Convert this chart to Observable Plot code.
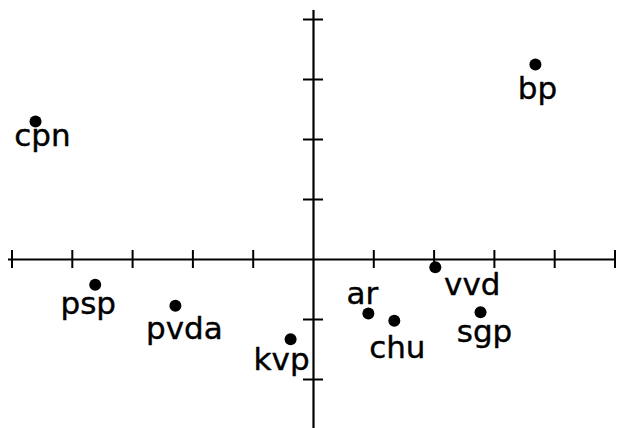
<!DOCTYPE html>
<html>
<head>
<meta charset="utf-8">
<script src="https://cdn.jsdelivr.net/npm/d3@7"></script>
<script src="https://cdn.jsdelivr.net/npm/@observablehq/plot@0.6"></script>
<style>
  html, body { margin: 0; padding: 0; background: #fff; }
  #chart svg { display: block; }
</style>
</head>
<body>
<div id="chart"></div>
<script>
// Party positions on the first two dimensions
const parties = ["cpn", "bp", "psp", "pvda", "kvp", "ar", "chu", "vvd", "sgp"];
const dim1 = [-4.61, 3.68, -3.62, -2.29, -0.38, 0.91, 1.34, 2.02, 2.77];
const dim2 = [2.30, 3.25, -0.42, -0.77, -1.33, -0.90, -1.02, -0.13, -0.88];

// Tick positions on the two axes (unlabelled cross ticks)
const xTicks = [-5, -4, -3, -2, -1, 1, 2, 3, 4, 5];
const yTicks = [-2, -1, 1, 2, 3, 4];

const points = parties.map((name, i) => ({name, x: dim1[i], y: dim2[i]}));

// Label placement around each dot, in pixels: [dx, baseline offset]
const labelPlacement = {
  cpn: [7, 24], bp: [2, 34], psp: [-7, 29], pvda: [9, 33], kvp: [-9, 31],
  ar: [-6, -10], chu: [3, 37], vvd: [37, 28], sgp: [4, 30]
};

const W = 617, H = 428;
const cx = 313, cy = 259, ux = 60.3, uy = 60;
const labelFont = "DejaVu Sans, Liberation Sans, sans-serif";

const labelMarks = points.map(p => Plot.text([p], {
  x: "x", y: "y", text: "name",
  dx: labelPlacement[p.name][0], dy: labelPlacement[p.name][1],
  lineAnchor: "bottom", textAnchor: "middle",
  fontSize: 31, fill: "#000", stroke: "#000", strokeWidth: 0.4, fontFamily: labelFont
}));

const chart = Plot.plot({
  width: W, height: H,
  marginTop: 0, marginRight: 0, marginBottom: 0, marginLeft: 0,
  x: {domain: [-cx / ux, (W - cx) / ux], range: [0, W], axis: null},
  y: {domain: [-(H - cy) / uy, cy / uy], range: [H, 0], axis: null},
  style: {background: "#fff", fontFamily: labelFont},
  marks: [
    Plot.ruleY([0], {x1: (8 - cx) / ux, x2: (615 - cx) / ux, stroke: "#000", strokeWidth: 1.8}),
    Plot.ruleX([0], {y1: (cy - 10) / uy, y2: -(H - cy) / uy, stroke: "#000", strokeWidth: 2.2}),
    Plot.ruleX(xTicks, {y1: -9 / uy, y2: 9 / uy, stroke: "#000", strokeWidth: 2}),
    Plot.ruleY(yTicks, {x1: -10 / ux, x2: 10 / ux, stroke: "#000", strokeWidth: 2}),
    Plot.dot(points, {x: "x", y: "y", r: 6, fill: "#000", stroke: "none"}),
    ...labelMarks
  ]
});

document.getElementById("chart").append(chart);
</script>
</body>
</html>
